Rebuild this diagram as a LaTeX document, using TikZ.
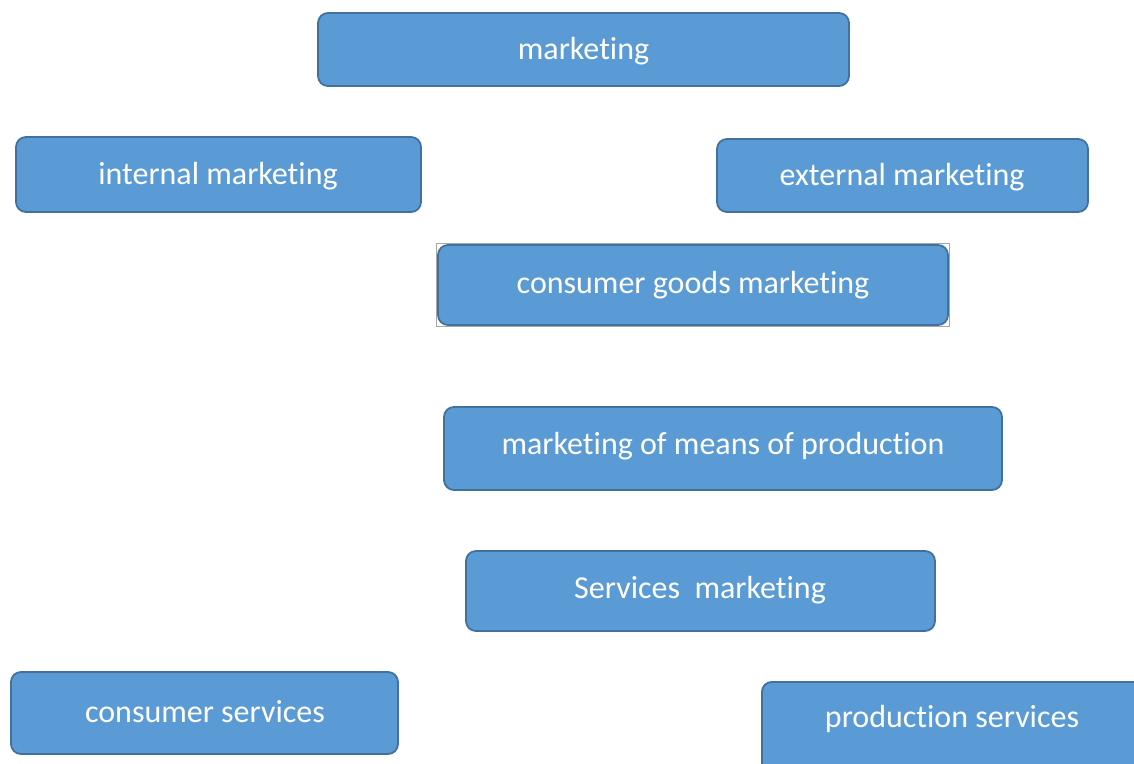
\documentclass[tikz,border=0pt]{standalone}
\usepackage{fontspec}
\setmainfont[RawFeature={-liga;-clig;-dlig;-calt}]{Carlito}
\definecolor{boxfill}{HTML}{5B9BD5}
\definecolor{boxline}{HTML}{41719C}
\newcommand\mkting{market\kern0pt ing}
\begin{document}
\begin{tikzpicture}[x=1pt,y=-1pt,
  blk/.style={draw=boxline,fill=boxfill,line width=1.8pt,rounded corners=10pt,
    inner sep=0pt,text=white,font=\fontsize{32}{36}\selectfont},
  lbl/.style={text=white,font=\fontsize{32}{36}\selectfont,inner sep=0pt},
]
\useasboundingbox (0,0) rectangle (1134,763);
\clip (0,0) rectangle (1134,763);
\fill[white] (0,0) rectangle (1134,763);
\node[blk,minimum width=531pt,minimum height=73pt] (mkt) at (583.5,49.5) {};
\node[lbl] (mktt) at (583.5,51) {\mkting};
\node[blk,minimum width=405pt,minimum height=75pt] (int) at (218.5,174.5) {};
\node[lbl] (intt) at (218,176) {internal \mkting};
\node[blk,minimum width=371pt,minimum height=73pt] (ext) at (902.5,175.5) {};
\node[lbl] (extt) at (902,177) {external \mkting};
\draw[gray!70,line width=0.8pt] (436.5,243.5) rectangle (949.5,326.5);
\node[blk,minimum width=510pt,minimum height=80pt] (cgm) at (693,285) {};
\node[lbl] (cgmt) at (693,285) {consumer goods \mkting};
\node[blk,minimum width=558pt,minimum height=83pt] (mmp) at (723,448.5) {};
\node[lbl] (mmpt) at (723,446) {\mkting{} of means of production};
\node[blk,minimum width=469pt,minimum height=80pt] (svc) at (700.5,591) {};
\node[lbl] (svct) at (700,590) {Services\ \ \mkting};
\node[blk,minimum width=387pt,minimum height=82pt] (csv) at (204.5,713) {};
\node[lbl] (csvt) at (205,712) {consumer services};
\node[blk,minimum width=390pt,minimum height=100pt,anchor=north west] (psv) at (761,681) {};
\node[lbl] (psvt) at (952,719) {production services};
\end{tikzpicture}
\end{document}
